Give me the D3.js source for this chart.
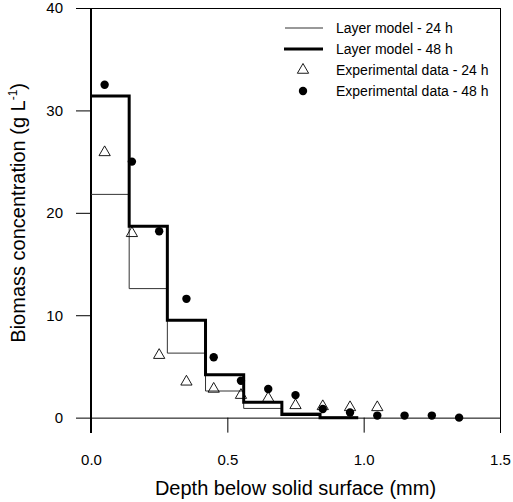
<!DOCTYPE html>
<html lang="en">
<head>
<meta charset="UTF-8">
<title>Biomass concentration vs depth</title>
<script src="https://d3js.org/d3.v7.min.js"></script>
<style>
  body { margin: 0; background: #fff; }
  svg text { font-family: "Liberation Sans", Arial, sans-serif; fill: #000; }
</style>
</head>
<body>
<svg width="513" height="502"></svg>
<script>
// layer model: 7 layers of 0.14 mm
const layerStarts = [0, 0.14, 0.28, 0.42, 0.56, 0.70, 0.84];
const layerEnd = 0.98;
const model24 = [21.8, 12.6, 6.3, 2.6, 0.9, 0.45, 0.05];
const model48 = [31.4, 18.7, 9.5, 4.2, 1.5, 0.3, 0.0];

// experimental points
const depth24 = [0.05, 0.15, 0.25, 0.35, 0.45, 0.55, 0.65, 0.75, 0.85, 0.95, 1.05];
const exp24 = [25.9, 18.0, 6.1, 3.5, 2.8, 2.2, 1.9, 1.2, 1.1, 1.0, 1.0];
const depth48 = [0.05, 0.15, 0.25, 0.35, 0.45, 0.55, 0.65, 0.75, 0.85, 0.95, 1.05, 1.15, 1.25, 1.35];
const exp48 = [32.5, 25.0, 18.2, 11.6, 5.9, 3.6, 2.8, 2.2, 0.85, 0.5, 0.2, 0.2, 0.2, 0.0];

const xTicks = [0, 0.5, 1.0, 1.5];
const yTicks = [0, 10, 20, 30, 40];
const legendLabels = ['Layer model - 24 h', 'Layer model - 48 h', 'Experimental data - 24 h', 'Experimental data - 48 h'];

const svg = d3.select('svg');
const x = d3.scaleLinear().domain([0, 1.5]).range([91, 500]);
const y = d3.scaleLinear().domain([-1.5, 40]).range([433, 8]);

// frame: left & right verticals, top line, x axis line at y = 0
const frame = svg.append('g').attr('stroke', '#000').attr('stroke-width', 1).attr('shape-rendering', 'crispEdges');
frame.append('line').attr('x1', x(0)).attr('x2', x(0)).attr('y1', y(40)).attr('y2', y(-1.5)).attr('stroke-width', 1.5);
frame.append('line').attr('x1', x(1.5)).attr('x2', x(1.5)).attr('y1', y(40)).attr('y2', y(-1.5));
frame.append('line').attr('x1', x(0)).attr('x2', x(1.5)).attr('y1', y(40)).attr('y2', y(40));

const xAxis = svg.append('g')
  .attr('transform', `translate(0,${y(0)})`)
  .call(d3.axisBottom(x).tickValues(xTicks).tickFormat(d3.format('.1f')).tickSize(15).tickPadding(22));
xAxis.select('.domain').attr('stroke', '#000');
xAxis.selectAll('text').attr('font-size', 15);

const yAxis = svg.append('g')
  .attr('transform', `translate(${x(0)},0)`)
  .call(d3.axisLeft(y).tickValues(yTicks).tickSize(15).tickPadding(13));
yAxis.select('.domain').remove();
yAxis.selectAll('text').attr('font-size', 15);
svg.selectAll('.tick line').attr('stroke', '#000');

// step lines
const stepLine = d3.line().x(d => x(d[0])).y(d => y(d[1])).curve(d3.curveStepAfter);
function steps(vals) {
  const pts = layerStarts.map((s, i) => [s, vals[i]]);
  pts.push([layerEnd, vals[vals.length - 1]]);
  return pts;
}
svg.append('path').attr('d', stepLine(steps(model24)))
  .attr('fill', 'none').attr('stroke', '#333').attr('stroke-width', 1);
svg.append('path').attr('d', stepLine(steps(model48)))
  .attr('fill', 'none').attr('stroke', '#000').attr('stroke-width', 3);

// markers
const tri = d3.symbol().type(d3.symbolTriangle).size(55);
svg.append('g').selectAll('path')
  .data(depth24.map((d, i) => [d, exp24[i]]))
  .join('path')
  .attr('d', tri)
  .attr('transform', d => `translate(${x(d[0])},${y(d[1])})`)
  .attr('fill', 'none').attr('stroke', '#000').attr('stroke-width', 0.9);
svg.append('g').selectAll('circle')
  .data(depth48.map((d, i) => [d, exp48[i]]))
  .join('circle')
  .attr('cx', d => x(d[0])).attr('cy', d => y(d[1])).attr('r', 4.2)
  .attr('fill', '#000');

// legend
const lg = svg.append('g');
const rowY = [28, 49, 70, 91];
lg.append('line').attr('x1', 285).attr('x2', 323).attr('y1', rowY[0]).attr('y2', rowY[0]).attr('stroke', '#333').attr('stroke-width', 1);
lg.append('line').attr('x1', 284).attr('x2', 323).attr('y1', rowY[1]).attr('y2', rowY[1]).attr('stroke', '#000').attr('stroke-width', 3);
lg.append('path').attr('d', tri).attr('transform', `translate(303,${rowY[2]})`)
  .attr('fill', 'none').attr('stroke', '#000').attr('stroke-width', 0.9);
lg.append('circle').attr('cx', 303).attr('cy', rowY[3]).attr('r', 4.2).attr('fill', '#000');
lg.selectAll('text').data(legendLabels).join('text')
  .attr('x', 336).attr('y', (d, i) => rowY[i]).attr('dy', '0.35em')
  .attr('font-size', 14).text(d => d);

// axis titles
svg.append('text').attr('x', (x(0) + x(1.5)) / 2).attr('y', 495)
  .attr('text-anchor', 'middle').attr('font-size', 20)
  .text('Depth below solid surface (mm)');
const yt = svg.append('text')
  .attr('transform', `translate(25,${(y(40) + y(0)) / 2}) rotate(-90)`)
  .attr('text-anchor', 'middle').attr('font-size', 20);
yt.append('tspan').text('Biomass concentration (g L');
yt.append('tspan').attr('font-size', 12).attr('dy', -8).text('-1');
yt.append('tspan').attr('dy', 8).text(')');
</script>
</body>
</html>
